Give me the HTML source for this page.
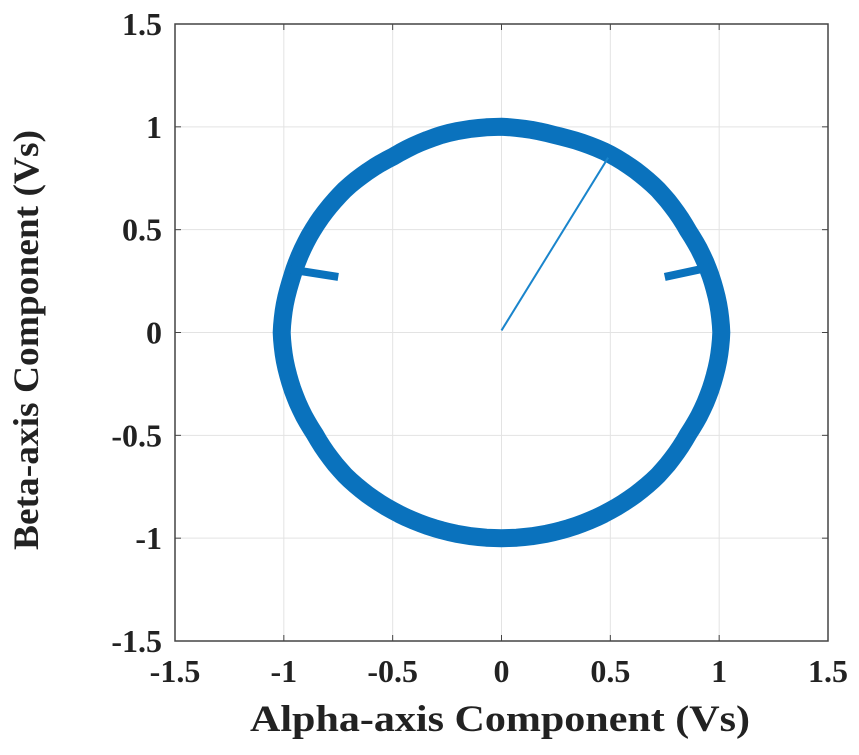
<!DOCTYPE html>
<html><head><meta charset="utf-8"><style>
body{margin:0;background:#fff;width:859px;height:750px;overflow:hidden}
text{font-family:"Liberation Serif",serif;font-weight:bold;fill:#222}
</style></head><body>
<svg id="chart" width="859" height="750" xmlns="http://www.w3.org/2000/svg"></svg>
<script>
const xTicks=[-1.5,-1,-0.5,0,0.5,1,1.5];
const yTicks=[-1.5,-1,-0.5,0,0.5,1,1.5];
const xTickLabels=["-1.5","-1","-0.5","0","0.5","1","1.5"];
const yTickLabels=["-1.5","-1","-0.5","0","0.5","1","1.5"];
const ringAnglesDeg=[0,15,30,45,60,75,90,105,120,135,150,165,180,195,210,225,240,255,270,285,300,315,330,345,360];
const ringRadius=[1.01,1.0,0.99,1.0,1.0,0.99,1.0,1.0,0.99,1.0,1.0,1.0,1.01,1.0,0.99,1.0,1.0,1.0,1.0,1.0,1.0,1.0,0.99,1.0,1.01];
const spokeStartsX=[-0.75,0.75];
const spokeStartsY=[0.27,0.27];
const spokeEndsX=[-0.99,0.97];
const spokeEndsY=[0.31,0.32];
const lineX=[0,0.49];
const lineY=[0.01,0.85];

const L=175,R=828,T=24,B=641;
const sx=v=>L+(v+1.5)/3*(R-L);
const sy=v=>B-(v+1.5)/3*(B-T);
const svg=document.getElementById('chart');
const NS='http://www.w3.org/2000/svg';
function mk(tag,attrs,parent){const e=document.createElementNS(NS,tag);for(const k in attrs)e.setAttribute(k,attrs[k]);(parent||svg).appendChild(e);return e;}

xTicks.forEach((v,i)=>{
  const g=mk('line',{x1:sx(v),x2:sx(v),y1:T,y2:B,stroke:'#e3e3e3','stroke-width':1});
  
  
  const t=mk('text',{x:sx(v),y:B+41,'text-anchor':'middle','font-size':32});
  t.textContent=xTickLabels[i];
  
  
});
yTicks.forEach((v,i)=>{
  const g=mk('line',{x1:L,x2:R,y1:sy(v),y2:sy(v),stroke:'#e3e3e3','stroke-width':1});
  
  
  const t=mk('text',{x:L-13,y:sy(v)+11,'text-anchor':'end','font-size':32});
  t.textContent=yTickLabels[i];
  
  
});

let d='';
for(let a=0;a<=360;a+=2){
  const k=Math.floor(a/15), f=(a-k*15)/15;
  const r=k<ringRadius.length-1?ringRadius[k]*(1-f)+ringRadius[k+1]*f:ringRadius[ringRadius.length-1];
  const rad=a*Math.PI/180;
  d+=(a===0?'M':'L')+sx(r*Math.cos(rad)).toFixed(1)+','+sy(r*Math.sin(rad)).toFixed(1);
}
const ring=mk('path',{d:d+'Z',fill:'none',stroke:'#0a72bd','stroke-width':18,'stroke-linejoin':'round'});


spokeStartsX.forEach((x,i)=>{
  const s=mk('line',{x1:sx(x),y1:sy(spokeStartsY[i]),x2:sx(spokeEndsX[i]),y2:sy(spokeEndsY[i]),stroke:'#0a72bd','stroke-width':8});
  
  
});
const ln=mk('line',{x1:sx(lineX[0]),y1:sy(lineY[0]),x2:sx(lineX[1]),y2:sy(lineY[1]),stroke:'#1a85cc','stroke-width':2});



const box=mk('rect',{x:L,y:T,width:R-L,height:B-T,fill:'none',stroke:'#444','stroke-width':1.5});


xTicks.forEach(v=>{mk('line',{x1:sx(v),x2:sx(v),y1:B,y2:B-6,stroke:'#444'});mk('line',{x1:sx(v),x2:sx(v),y1:T,y2:T+6,stroke:'#444'});});
yTicks.forEach(v=>{mk('line',{x1:L,x2:L+6,y1:sy(v),y2:sy(v),stroke:'#444'});mk('line',{x1:R,x2:R-6,y1:sy(v),y2:sy(v),stroke:'#444'});});

const xt=mk('text',{x:250,y:731,'font-size':37,textLength:500,lengthAdjust:'spacingAndGlyphs'});
xt.textContent='Alpha-axis Component (Vs)';


const yt=mk('text',{x:0,y:0,'font-size':36,textLength:420,lengthAdjust:'spacingAndGlyphs',transform:'translate(38,550) rotate(-90)'});
yt.textContent='Beta-axis Component (Vs)';


</script>
</body></html>
